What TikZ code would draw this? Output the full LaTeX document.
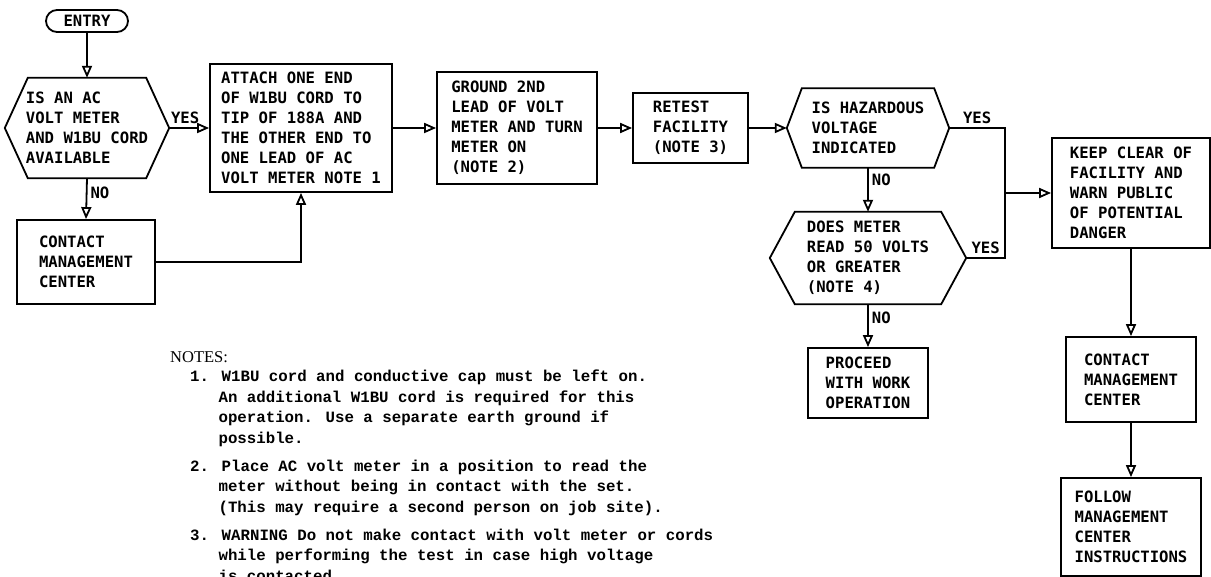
\documentclass[tikz,border=0pt]{standalone}
\usepackage{fontspec}
\usetikzlibrary{arrows.meta,positioning}
\newfontfamily\chartface{DejaVu Sans Mono}
\newfontfamily\noteface{Liberation Mono}
\newfontfamily\headface{Liberation Serif}
\newcommand{\chartfont}{\chartface\bfseries\fontsize{15.6}{20}\selectfont}
\newcommand{\notefont}{\noteface\bfseries\fontsize{15.75}{20.7}\selectfont}
\newcommand{\hang}{\hphantom{0.\ }}
% hexagon outline round a decision node
\newcommand{\hexframe}[2]{%
  \draw[wire] (#1.west) -- ([xshift=#2]#1.north west) -- ([xshift=-#2]#1.north east)
    -- (#1.east) -- ([xshift=-#2]#1.south east) -- ([xshift=#2]#1.south west) -- cycle;}
\tikzset{
  wire/.style={black,line width=1.8pt,line join=miter},
  flow/.style={wire,-{Triangle[open,length=12pt,width=10pt]}},
  procbox/.style={draw=black,line width=1.8pt,align=left,font=\chartfont,inner sep=0pt},
  decision/.style={align=left,font=\chartfont,inner sep=0pt},
  terminal/.style={procbox,rounded corners=11pt,align=center},
  answer/.style={font=\chartfont,inner sep=3pt},
  notehead/.style={font=\headface\fontsize{16.5}{19}\selectfont,anchor=west,inner sep=0pt},
  notetext/.style={font=\notefont,align=left,anchor=north west,inner sep=0pt},
}
\begin{document}
\begin{tikzpicture}[x=1pt,y=-1pt]
  \path[use as bounding box] (0,0) rectangle (1211,577);

  \node[terminal,minimum width=82pt,minimum height=22pt] (entry) at (87,21) {ENTRY};
  \node[decision,minimum width=164pt,minimum height=100pt] (avail) at (87,128)
    {IS AN AC\\VOLT METER\\AND W1BU CORD\\AVAILABLE};
  \hexframe{avail}{23pt}
  \node[procbox,minimum width=182pt,minimum height=128pt] (attach) at (301,128)
    {ATTACH ONE END\\OF W1BU CORD TO\\TIP OF 188A AND\\THE OTHER END TO\\ONE LEAD OF AC\\VOLT METER NOTE 1};
  \node[procbox,minimum width=138pt,minimum height=84pt] (contactA) at (86,262)
    {CONTACT\\MANAGEMENT\\CENTER};
  \node[procbox,minimum width=160pt,minimum height=112pt] (ground) at (517,128)
    {GROUND 2ND\\LEAD OF VOLT\\METER AND TURN\\METER ON\\(NOTE 2)};
  \node[procbox,minimum width=115pt,minimum height=70pt] (retest) at (690.5,128)
    {RETEST\\FACILITY\\(NOTE 3)};
  \node[decision,minimum width=162pt,minimum height=79pt] (hazard) at (868,128)
    {IS HAZARDOUS\\VOLTAGE\\INDICATED};
  \hexframe{hazard}{15pt}
  \node[decision,minimum width=196pt,minimum height=92pt] (reading) at (868,258)
    {DOES METER\\READ 50 VOLTS\\OR GREATER\\(NOTE 4)};
  \hexframe{reading}{25pt}
  \node[procbox,minimum width=120pt,minimum height=70pt] (proceed) at (868,383)
    {PROCEED\\WITH WORK\\OPERATION};
  \node[procbox,minimum width=158pt,minimum height=110pt] (keep) at (1131,193)
    {KEEP CLEAR OF\\FACILITY AND\\WARN PUBLIC\\OF POTENTIAL\\DANGER};
  \node[procbox,minimum width=130pt,minimum height=85pt] (contactB) at (1131,379.5)
    {CONTACT\\MANAGEMENT\\CENTER};
  \node[procbox,minimum width=140pt,minimum height=98pt] (follow) at (1131,527)
    {FOLLOW\\MANAGEMENT\\CENTER\\INSTRUCTIONS};
  \coordinate (merge) at (1005,193);

  \draw[flow] (entry.south) -- (avail.north);
  \draw[flow] (avail.east) -- (attach.west) node[answer,pos=0.4,above]{YES};
  \draw[flow] (avail.south) -- (contactA.north) node[answer,pos=0.35,right]{NO};
  \draw[flow] (contactA.east) -| (attach.south);
  \draw[flow] (attach.east) -- (ground.west);
  \draw[flow] (ground.east) -- (retest.west);
  \draw[flow] (retest.east) -- (hazard.west);
  \draw[flow] (hazard.south) -- (reading.north) node[answer,pos=0.28,right]{NO};
  \draw[flow] (reading.south) -- (proceed.north) node[answer,pos=0.32,right]{NO};
  \draw[wire] (hazard.east) -| (merge) node[answer,pos=0.25,above]{YES};
  \draw[wire] (reading.east) -| (merge) node[answer,pos=0.25,above]{YES};
  \draw[flow] (merge) -- (keep.west);
  \draw[flow] (keep.south) -- (contactB.north);
  \draw[flow] (contactB.south) -- (follow.north);

  \node[notehead] (notehead) at (170,357) {NOTES:};
  \node[notetext] (notelist) at (190,369.5)
    {1. W1BU cord and conductive cap must be left on.\\
     \hang An additional W1BU cord is required for this\\
     \hang operation. Use a separate earth ground if\\
     \hang possible.\\[7pt]
     2. Place AC volt meter in a position to read the\\
     \hang meter without being in contact with the set.\\
     \hang (This may require a second person on job site).\\[7pt]
     3. WARNING Do not make contact with volt meter or cords\\
     \hang while performing the test in case high voltage\\
     \hang is contacted.};
\end{tikzpicture}
\end{document}
